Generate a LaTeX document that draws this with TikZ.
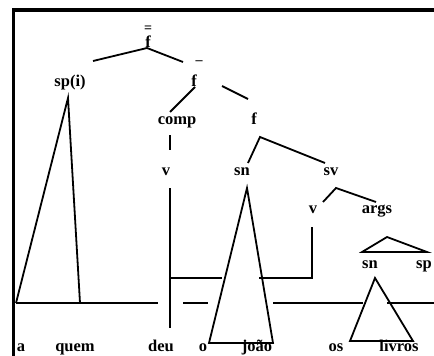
\documentclass[tikz,border=0pt]{standalone}
\usepackage{fontspec}
\setmainfont{Liberation Serif}
\begin{document}
\begin{tikzpicture}[x=1pt,y=-1pt]
        \tikzset{
            lbl/.style={
                font=\fontsize{16.5}{18}\selectfont\bfseries,
                inner sep=0pt,
                anchor=base
            },
            barra/.style={
                font=\fontsize{14}{16}\selectfont\bfseries,
                inner sep=0pt
            },
            ramo/.style={
                black,
                line width=1.8pt
            }
        }
        \useasboundingbox (0,0) rectangle (434,356);

        %moldura
        \draw[black, line width=3.5pt] (13.5,356) -- (13.5,10) -- (434,10);

        %rotulos
        \node[barra] (barra0) at (148,29) {=};
        \node[lbl] (f0) at (148,47) {f};
        \node[barra] (barra1) at (199,63) {--};
        \node[lbl] (f1) at (194,86) {f};
        \node[lbl] (spi) at (70,86) {sp(i)};
        \node[lbl] (comp) at (177,124) {comp};
        \node[lbl] (f2) at (254,124) {f};
        \node[lbl] (v1) at (166,175) {v};
        \node[lbl] (sn1) at (242,175) {sn};
        \node[lbl] (sv) at (331,175) {sv};
        \node[lbl] (v2) at (313,213) {v};
        \node[lbl] (args) at (377,213) {args};
        \node[lbl] (sn2) at (370,268) {sn};
        \node[lbl] (sp2) at (424,268) {sp};

        %palavras
        \node[lbl] (w1) at (21,351.5) {a};
        \node[lbl] (w2) at (75,351.5) {quem};
        \node[lbl] (w3) at (161,351.5) {deu};
        \node[lbl] (w4) at (203,351.5) {o};
        \node[lbl] (w5) at (257,351.5) {joão};
        \node[lbl] (w6) at (336,351.5) {os};
        \node[lbl] (w7) at (399,351.5) {livros};

        %pontos dos ramos
        \coordinate (f0b) at (147,48);
        \coordinate (f0l) at (93,61);
        \coordinate (f0r) at (183,62);
        \coordinate (f1l) at (195,87);
        \coordinate (compt) at (170,112);
        \coordinate (f1r) at (222,86);
        \coordinate (f2t) at (248,99);
        \coordinate (compb) at (170,135);
        \coordinate (v1t) at (170,150);
        \coordinate (f2b) at (260,137);
        \coordinate (sn1t) at (248,163);
        \coordinate (svt) at (325,163);
        \coordinate (svb) at (336,188);
        \coordinate (v2t) at (323,202);
        \coordinate (argst) at (376,202);

        \draw[ramo] (f0l) -- (f0b) -- (f0r);
        \draw[ramo] (f1l) -- (compt);
        \draw[ramo] (f1r) -- (f2t);
        \draw[ramo] (compb) -- (v1t);
        \draw[ramo] (sn1t) -- (f2b) -- (svt);
        \draw[ramo] (v2t) -- (svb) -- (argst);

        %linhas
        \draw[ramo] (16,303) -- (158,303);
        \draw[ramo] (183,303) -- (208,303);
        \draw[ramo] (273,303) -- (363,303);
        \draw[ramo] (387,303) -- (434,303);
        \draw[ramo] (170,188) -- (170,328);
        \draw[ramo] (170,278) -- (222,278);
        \draw[ramo] (259,278) -- (312,278) -- (312,227);

        %triangulos
        \draw[ramo] (16,303) -- (68,98) -- (80,303);
        \draw[ramo] (247,188) -- (209,343) -- (273,343) -- cycle;
        \draw[ramo] (387,237) -- (362,252) -- (427,252) -- cycle;
        \draw[ramo] (375,278) -- (350,341) -- (413,341) -- cycle;

\end{tikzpicture}
\end{document}
